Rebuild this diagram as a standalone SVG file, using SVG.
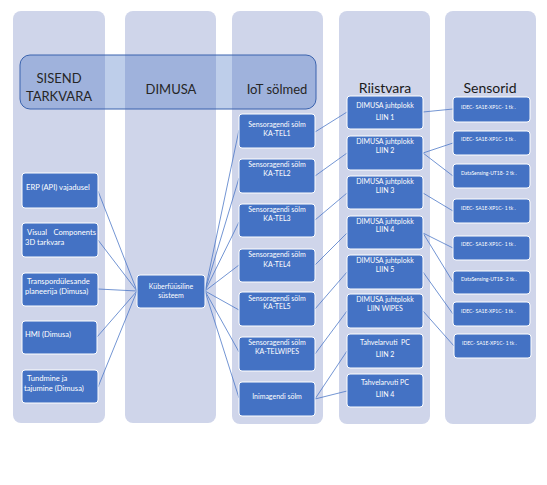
<svg xmlns="http://www.w3.org/2000/svg" width="547" height="485" viewBox="0 0 547 485">
<style>
.col{fill:#CFD5EA;}
.band{fill:#4472C4;fill-opacity:0.35;stroke:#3A63AE;stroke-width:1;}
.hd{font-family:Lato,"Liberation Sans",sans-serif;font-size:13px;fill:#262626;}
.hd2{font-family:Lato,"Liberation Sans",sans-serif;font-size:14px;fill:#1a1a1a;}
.n rect{fill:#4472C4;stroke:#FFFFFF;stroke-width:1;}
.n text{font-family:Lato,"Liberation Sans",sans-serif;fill:#FFFFFF;font-size:7px;}
.n text.c{text-anchor:middle;}
.n text.s{font-size:5px;}
.n text.l{font-size:7.6px;}
#connectors line{stroke:#4472C4;stroke-width:0.75;fill:none;}
</style>
<rect width="547" height="485" fill="#FFFFFF"/>
<g id="columns">
<rect class="col" x="13" y="11" width="92" height="412" rx="8"/>
<rect class="col" x="125" y="11" width="91" height="412" rx="8"/>
<rect class="col" x="232" y="11" width="91" height="413" rx="8"/>
<rect class="col" x="339" y="11" width="91" height="413" rx="8"/>
<rect class="col" x="445" y="11" width="91" height="413" rx="8"/>
</g>
<g id="header">
<rect class="band" x="20" y="55" width="296" height="54" rx="10"/>
<text class="hd" x="59" y="83" text-anchor="middle">SISEND</text>
<text class="hd" x="59" y="101" text-anchor="middle">TARKVARA</text>
<text class="hd" x="171" y="94" text-anchor="middle">DIMUSA</text>
<text class="hd" x="277" y="94" text-anchor="middle">IoT sölmed</text>
<text class="hd2" x="385" y="93" text-anchor="middle">Riistvara</text>
<text class="hd2" x="490" y="93" text-anchor="middle">Sensorid</text>
</g>
<g id="connectors">
<line x1="98" y1="191" x2="137" y2="291"/>
<line x1="98" y1="240" x2="137" y2="291"/>
<line x1="98" y1="289" x2="137" y2="291"/>
<line x1="97" y1="337" x2="137" y2="291"/>
<line x1="98" y1="387" x2="137" y2="291"/>
<line x1="205" y1="291" x2="239" y2="130"/>
<line x1="205" y1="291" x2="239" y2="178"/>
<line x1="205" y1="291" x2="239" y2="222"/>
<line x1="205" y1="291" x2="239" y2="265"/>
<line x1="205" y1="291" x2="239" y2="310"/>
<line x1="205" y1="291" x2="239" y2="352"/>
<line x1="205" y1="291" x2="239" y2="398"/>
<line x1="315" y1="132" x2="347" y2="112"/>
<line x1="315" y1="176" x2="347" y2="153"/>
<line x1="315" y1="220" x2="347" y2="193"/>
<line x1="315" y1="265" x2="347" y2="233"/>
<line x1="315" y1="309" x2="347" y2="272"/>
<line x1="315" y1="354" x2="347" y2="311"/>
<line x1="315" y1="399" x2="347" y2="351"/>
<line x1="315" y1="399" x2="347" y2="391"/>
<line x1="423" y1="112" x2="453" y2="109"/>
<line x1="423" y1="153" x2="453" y2="143"/>
<line x1="423" y1="153" x2="453" y2="176"/>
<line x1="423" y1="193" x2="453" y2="211"/>
<line x1="423" y1="233" x2="453" y2="248"/>
<line x1="423" y1="233" x2="453" y2="282"/>
<line x1="423" y1="272" x2="453" y2="314"/>
<line x1="423" y1="311" x2="454" y2="346"/>
</g>
<g id="erp" class="n"><rect x="22" y="173" width="76" height="35" rx="3"/><text class="l" x="26" y="190">ERP (API) vajadusel</text></g>
<g id="visual" class="n"><rect x="22" y="223" width="76" height="34" rx="3"/><text class="l"><tspan x="27" y="235">Visual</tspan><tspan x="96" y="235" text-anchor="end">Components</tspan></text><text class="l" x="25" y="245">3D tarkvara</text></g>
<g id="transport" class="n"><rect x="22" y="273" width="76" height="33" rx="3"/><text class="l" x="27" y="284">Transpordülesande</text><text class="l" x="25" y="294">planeerija (Dimusa)</text></g>
<g id="hmi" class="n"><rect x="22" y="321" width="75" height="33" rx="3"/><text class="l" x="25" y="337">HMI (Dimusa)</text></g>
<g id="tundmine" class="n"><rect x="22" y="370" width="76" height="33" rx="3"/><text class="l" x="27" y="381">Tundmine ja</text><text class="l" x="24" y="391">tajumine (Dimusa)</text></g>
<g id="kuber" class="n"><rect x="137" y="275" width="68" height="33" rx="3"/><text class="c" x="171" y="289">Küberfüüsiline</text><text class="c" x="171" y="298">süsteem</text></g>
<g id="katel1" class="n"><rect x="239" y="114" width="76" height="34" rx="3"/><text class="c" x="277" y="127">Sensoragendi sölm</text><text class="c" x="277" y="136">KA-TEL1</text></g>
<g id="katel2" class="n"><rect x="239" y="159" width="76" height="34" rx="3"/><text class="c" x="277" y="167">Sensoragendi sölm</text><text class="c" x="277" y="176">KA-TEL2</text></g>
<g id="katel3" class="n"><rect x="239" y="204" width="76" height="33" rx="3"/><text class="c" x="277" y="212">Sensoragendi sölm</text><text class="c" x="277" y="221">KA-TEL3</text></g>
<g id="katel4" class="n"><rect x="239" y="249" width="76" height="33" rx="3"/><text class="c" x="277" y="257">Sensoragendi sölm</text><text class="c" x="277" y="267">KA-TEL4</text></g>
<g id="katel5" class="n"><rect x="239" y="292" width="76" height="34" rx="3"/><text class="c" x="277" y="301">Sensoragendi sölm</text><text class="c" x="277" y="309">KA-TEL5</text></g>
<g id="katelwipes" class="n"><rect x="239" y="337" width="76" height="34" rx="3"/><text class="c" x="277" y="345">Sensoragendi sölm</text><text class="c" x="277" y="354">KA-TELWIPES</text></g>
<g id="inimagendi" class="n"><rect x="239" y="382" width="76" height="34" rx="3"/><text class="c" x="277" y="399">Inimagendi sölm</text></g>
<g id="liin1" class="n"><rect x="347" y="96" width="76" height="33" rx="3"/><text class="c" x="385" y="108">DIMUSA juhtplokk</text><text class="c" x="385" y="120">LIIN 1</text></g>
<g id="liin2" class="n"><rect x="347" y="136" width="76" height="34" rx="3"/><text class="c" x="385" y="144">DIMUSA juhtplokk</text><text class="c" x="385" y="153">LIIN 2</text></g>
<g id="liin3" class="n"><rect x="347" y="176" width="76" height="33" rx="3"/><text class="c" x="385" y="184">DIMUSA juhtplokk</text><text class="c" x="385" y="193">LIIN 3</text></g>
<g id="liin4" class="n"><rect x="347" y="216" width="76" height="33" rx="3"/><text class="c" x="385" y="224">DIMUSA juhtplokk</text><text class="c" x="385" y="232">LIIN 4</text></g>
<g id="liin5" class="n"><rect x="347" y="255" width="76" height="34" rx="3"/><text class="c" x="385" y="263">DIMUSA juhtplokk</text><text class="c" x="385" y="272">LIIN 5</text></g>
<g id="liinwipes" class="n"><rect x="347" y="294" width="76" height="34" rx="3"/><text class="c" x="385" y="302">DIMUSA juhtplokk</text><text class="c" x="385" y="311">LIIN WIPES</text></g>
<g id="tahv2" class="n"><rect x="347" y="334" width="76" height="34" rx="3"/><text class="c" x="385" y="345" xml:space="preserve">Tahvelarvuti  PC</text><text class="c" x="385" y="357">LIIN 2</text></g>
<g id="tahv4" class="n"><rect x="347" y="374" width="76" height="33" rx="3"/><text class="c" x="385" y="385">Tahvelarvuti PC</text><text class="c" x="385" y="397">LIIN 4</text></g>
<g id="s1" class="n"><rect x="453" y="97" width="77" height="25" rx="3"/><text class="s" x="461" y="109">IDEC- SA1E-XP1C- 1 tk .</text></g>
<g id="s2" class="n"><rect x="453" y="131" width="77" height="24" rx="3"/><text class="s" x="461" y="141">IDEC- SA1E-XP1C- 1 tk .</text></g>
<g id="s3" class="n"><rect x="453" y="164" width="77" height="24" rx="3"/><text class="s" x="461" y="175">DataSensing-UT18- 2 tk .</text></g>
<g id="s4" class="n"><rect x="453" y="199" width="77" height="24" rx="3"/><text class="s" x="461" y="210">IDEC- SA1E-XP1C- 1 tk .</text></g>
<g id="s5" class="n"><rect x="453" y="236" width="77" height="24" rx="3"/><text class="s" x="461" y="246">IDEC- SA1E-XP1C- 1 tk .</text></g>
<g id="s6" class="n"><rect x="453" y="271" width="77" height="23" rx="3"/><text class="s" x="461" y="281">DataSensing-UT18- 2 tk .</text></g>
<g id="s7" class="n"><rect x="453" y="302" width="77" height="24" rx="3"/><text class="s" x="461" y="313">IDEC- SA1E-XP1C- 1 tk .</text></g>
<g id="s8" class="n"><rect x="454" y="334" width="77" height="24" rx="3"/><text class="s" x="462" y="345">IDEC- SA1E-XP1C- 1 tk .</text></g>
</svg>
